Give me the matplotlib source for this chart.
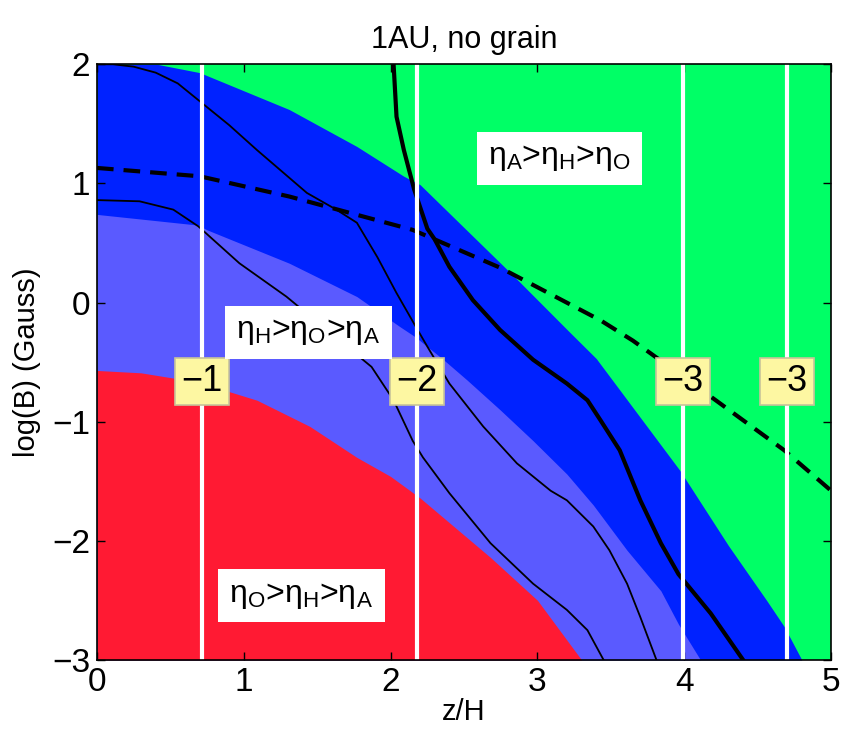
import matplotlib
matplotlib.use("Agg")
import matplotlib.pyplot as plt
import numpy as np

plt.rcParams['font.family'] = ['Liberation Sans', 'DejaVu Sans']
plt.rcParams['mathtext.fontset'] = 'custom'
plt.rcParams['mathtext.rm'] = 'Liberation Sans'

# region boundaries (z/H, log B)
red_x = [0, 0.3, 0.55, 0.88, 1.09, 1.45, 1.77, 2.0, 2.2, 2.68, 3.0, 3.3]
red_y = [-0.57, -0.59, -0.64, -0.74, -0.82, -1.04, -1.30, -1.46, -1.64, -2.14, -2.5, -3.0]

lb_x = [0, 0.69, 0.75, 1.31, 1.77, 2.06, 2.17, 2.36, 2.52, 2.745, 2.97, 3.2, 3.38, 3.61, 3.84, 3.96, 4.11]
lb_y = [0.74, 0.65, 0.61, 0.33, 0.05, -0.20, -0.29, -0.48, -0.65, -0.90, -1.16, -1.44, -1.70, -2.08, -2.42, -2.70, -3.0]

gb_x = [0, 0.41, 0.70, 1.31, 1.77, 2.09, 2.2, 2.84, 3.22, 3.4, 3.97, 4.3, 4.56, 4.68, 4.8]
gb_y = [2.0, 2.0, 1.93, 1.62, 1.31, 1.06, 0.99, 0.22, -0.25, -0.47, -1.41, -2.04, -2.5, -2.72, -3.0]

# black contours
ca_x = [0.0, 0.11, 0.25, 0.4, 0.55, 0.69, 0.9, 1.09, 1.43, 1.63, 1.77, 1.91, 2.04, 2.17, 2.25, 2.40, 2.63, 2.86, 3.09, 3.2, 3.38, 3.49, 3.61, 3.70, 3.81]
ca_y = [2.0, 2.0, 1.98, 1.93, 1.84, 1.70, 1.49, 1.28, 0.92, 0.78, 0.67, 0.38, 0.08, -0.20, -0.37, -0.68, -1.04, -1.35, -1.58, -1.66, -1.88, -2.08, -2.36, -2.64, -3.0]

cb_x = [0, 0.29, 0.52, 0.69, 0.97, 1.29, 1.87, 2.02, 2.15, 2.22, 2.40, 2.68, 2.97, 3.2, 3.34, 3.45]
cb_y = [0.86, 0.85, 0.78, 0.64, 0.33, 0.05, -0.54, -0.82, -1.16, -1.30, -1.60, -2.02, -2.36, -2.58, -2.75, -3.0]

thick_x = [2.02, 2.04, 2.09, 2.16, 2.25, 2.30, 2.40, 2.56, 2.745, 2.97, 3.2, 3.34, 3.43, 3.56, 3.70, 3.84, 3.96, 4.18, 4.40]
thick_y = [2.0, 1.56, 1.28, 0.95, 0.62, 0.53, 0.30, 0.02, -0.23, -0.48, -0.68, -0.82, -0.99, -1.24, -1.66, -2.02, -2.28, -2.61, -3.0]

dash_x = [0, 0.70, 1.31, 2.15, 2.75, 3.43, 3.65, 4.18, 4.68, 5.0]
dash_y = [1.13, 1.06, 0.89, 0.61, 0.29, -0.15, -0.32, -0.79, -1.24, -1.58]

# white vertical lines and their labels
vlines = [0.717, 2.18, 3.99, 4.70]
vlabels = ['\u22121', '\u22122', '\u22123', '\u22123']

regions = [
    (1.44, -0.25, 'η$_\\mathrm{H}$>η$_\\mathrm{O}$>η$_\\mathrm{A}$'),
    (3.15, 1.21, 'η$_\\mathrm{A}$>η$_\\mathrm{H}$>η$_\\mathrm{O}$'),
    (1.39, -2.46, 'η$_\\mathrm{O}$>η$_\\mathrm{H}$>η$_\\mathrm{A}$'),
]

c_red = '#FF1A33'
c_lb = '#5A5AFF'
c_blue = '#0022FF'
c_green = '#00FF66'

fig = plt.figure(figsize=(8.43, 7.39), dpi=100)
ax = fig.add_axes([0.115, 0.107, 0.871, 0.806])
ax.set_facecolor(c_green)

xx = np.linspace(0, 5, 1001)
def interp(bx, by):
    return np.interp(xx, bx, by, right=-3.0)

ax.fill_between(xx, -3, interp(gb_x, gb_y), color=c_blue, lw=0)
ax.fill_between(xx, -3, interp(lb_x, lb_y), color=c_lb, lw=0)
ax.fill_between(xx, -3, interp(red_x, red_y), color=c_red, lw=0)

ax.plot(ca_x, ca_y, color='k', lw=1.3)
ax.plot(cb_x, cb_y, color='k', lw=1.3)
ax.plot(thick_x, thick_y, color='k', lw=3)
ax.plot(dash_x, dash_y, color='k', lw=3, linestyle=(0, (4, 2.4)))

for x, lab in zip(vlines, vlabels):
    ax.axvline(x, color='white', lw=3)
    ax.text(x, -0.66, lab, fontsize=26, ha='center', va='center',
            bbox=dict(boxstyle='square,pad=0.17', fc='#FDF7A2', ec='#C8C49A', lw=1.2))

for x, y, s in regions:
    ax.text(x, y, s, fontsize=23, ha='center', va='center',
            bbox=dict(boxstyle='square,pad=0.36', fc='white', ec='none'))

ax.set_xlim(0, 5)
ax.set_ylim(-3, 2)
ax.set_xticks(range(0, 6))
ax.set_yticks(range(-3, 3))
ax.set_yticklabels(['\u22123', '\u22122', '\u22121', '0', '1', '2'])
ax.tick_params(direction='in', top=True, right=True, labelsize=24, length=6, width=1, pad=5)
ax.set_xlabel('z/H', fontsize=21, labelpad=0)
ax.set_ylabel('log(B) (Gauss)', fontsize=21, labelpad=8)
ax.set_title('1AU, no grain', fontsize=22, pad=12)
for sp in ax.spines.values():
    sp.set_linewidth(1.2)

fig.savefig('out.png', dpi=100)
